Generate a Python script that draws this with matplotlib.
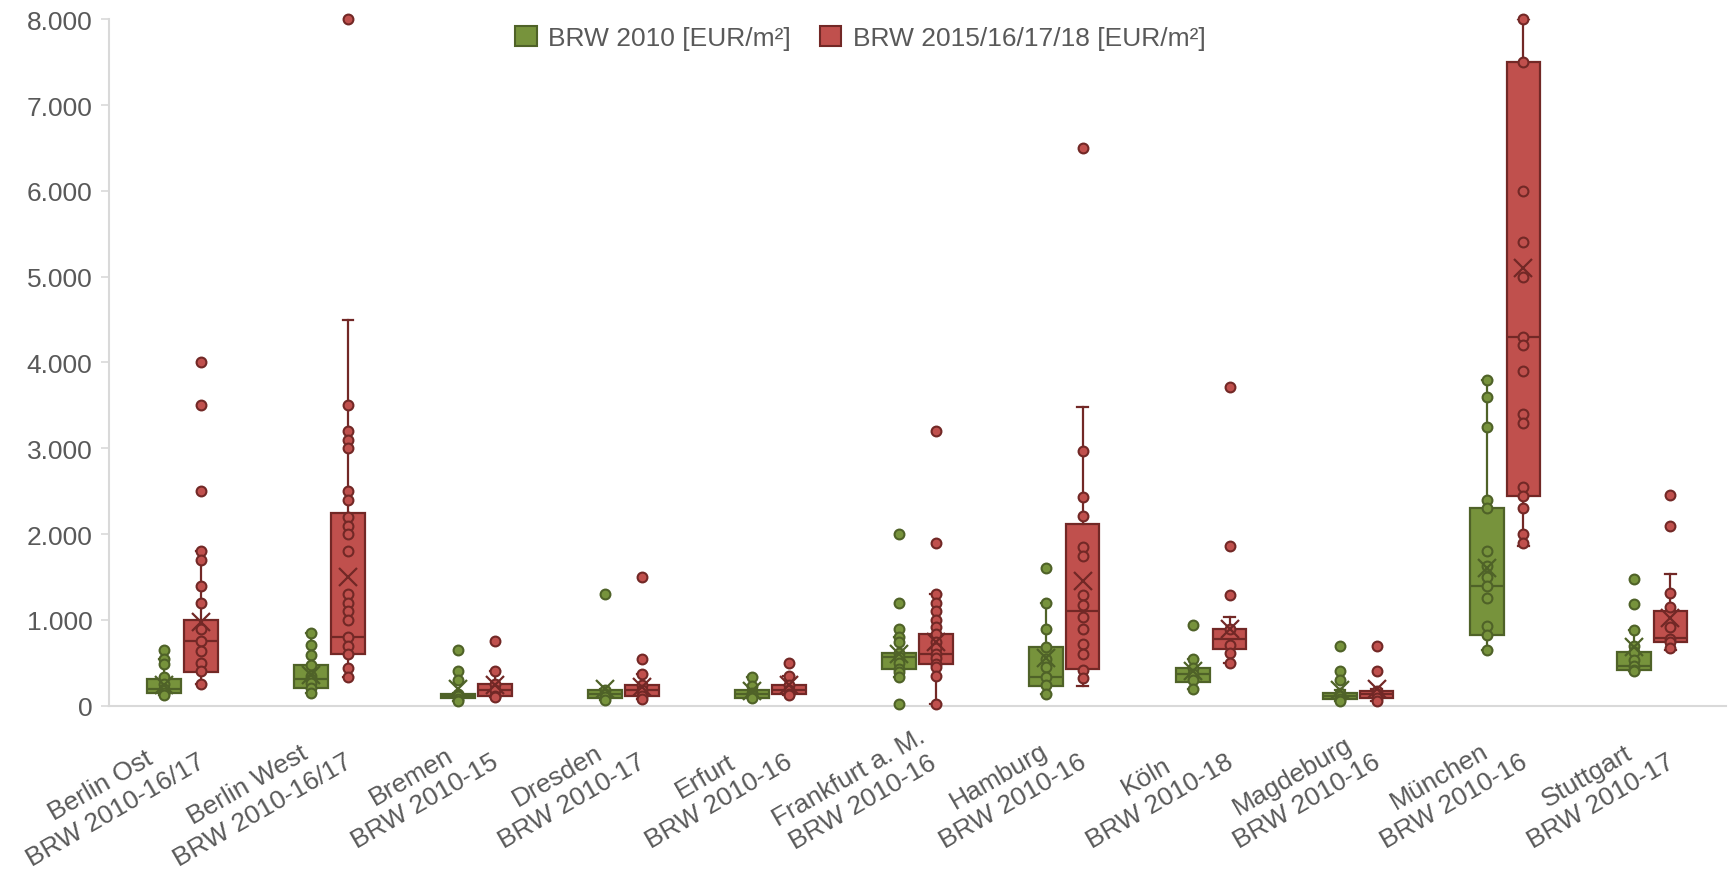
import numpy as np
import matplotlib
matplotlib.use("Agg")
import matplotlib.pyplot as plt
import matplotlib.transforms as mtransforms
from matplotlib.patches import Patch

plt.rcParams["font.family"] = ["Liberation Sans", "DejaVu Sans"]

categories = ["Berlin Ost\nBRW 2010-16/17", "Berlin West\nBRW 2010-16/17", "Bremen\nBRW 2010-15",
              "Dresden\nBRW 2010-17", "Erfurt\nBRW 2010-16", "Frankfurt a. M.\nBRW 2010-16",
              "Hamburg\nBRW 2010-16", "Köln\nBRW 2010-18", "Magdeburg\nBRW 2010-16",
              "München\nBRW 2010-16", "Stuttgart\nBRW 2010-17"]
series_names = ["BRW 2010 [EUR/m²]", "BRW 2015/16/17/18 [EUR/m²]"]

# BRW 2010 - box stats
q1_a   = [150, 210,  85,  95,  95, 430, 230, 280,  75,  830, 420]
med_a  = [190, 310, 110, 140, 140, 570, 330, 370, 110, 1400, 460]
q3_a   = [315, 480, 140, 180, 180, 610, 680, 440, 150, 2300, 630]
lo_a   = [120, 150,  60,  70,  90, 340, 140, 190,  50,  650, 400]
hi_a   = [540, 850, 150, 200, 330, 800, 1200, 550, 180, 3800, 880]
mean_a = [237, 353, 200, 190, 170, 600, 560, 400, 180, 1600, 690]
pts_a = [
    [650, 540, 490, 330, 250, 190, 150, 120],
    [850, 710, 590, 480, 350, 310, 260, 210, 150],
    [650, 400, 300, 140, 110, 80, 60],
    [1300, 180, 140, 100, 70],
    [330, 230, 150, 120, 90],
    [2000, 1200, 900, 800, 740, 610, 570, 500, 430, 390, 340, 20],
    [1600, 1200, 900, 680, 550, 450, 330, 240, 140],
    [940, 550, 440, 370, 300, 190],
    [700, 400, 300, 150, 110, 75, 50],
    [3800, 3600, 3250, 2400, 2300, 1800, 1630, 1500, 1400, 1260, 930, 830, 650],
    [1480, 1190, 880, 700, 630, 530, 460, 420, 400],
]

# BRW 2015/16/17/18
q1_b   = [390, 600, 110, 110, 140, 490, 430, 660,  90, 2450, 740]
med_b  = [750, 800, 180, 180, 185, 600, 1100, 780, 140, 4300, 790]
q3_b   = [1000, 2250, 250, 240, 240, 840, 2120, 890, 170, 7500, 1110]
lo_b   = [250, 330, 100,  80, 130,  20, 230, 500,  60, 1860, 650]
hi_b   = [1800, 4500, 400, 370, 350, 1300, 3480, 1030, 200, 8000, 1540]
mean_b = [980, 1500, 240, 220, 240, 740, 1450, 890, 200, 5100, 1020]
pts_b = [
    [4000, 3500, 2500, 1800, 1700, 1400, 1200, 900, 750, 640, 500, 400, 250],
    [8000, 3500, 3200, 3100, 3000, 2500, 2400, 2200, 2100, 2000, 1800, 1300, 1200,
     1100, 1000, 800, 700, 600, 440, 330],
    [750, 400, 250, 180, 110, 100],
    [1500, 540, 370, 240, 180, 110, 80],
    [500, 350, 240, 185, 140, 130],
    [3200, 1900, 1300, 1200, 1100, 1000, 920, 840, 740, 670, 600, 560, 490, 450, 350, 20],
    [6500, 2970, 2430, 2210, 1850, 1750, 1290, 1170, 1040, 890, 715, 607, 412, 320],
    [3720, 1860, 1290, 890, 714, 613, 500],
    [700, 400, 170, 140, 90, 60],
    [8000, 7500, 6000, 5400, 5000, 4300, 4200, 3900, 3400, 3300, 2550, 2450, 2300, 2000, 1900],
    [2460, 2100, 1320, 1146, 923, 780, 740, 670],
]

yticks = [0, 1000, 2000, 3000, 4000, 5000, 6000, 7000, 8000]
ytick_labels = ["0", "1.000", "2.000", "3.000", "4.000", "5.000", "6.000", "7.000", "8.000"]

green, dkgreen = "#77933c", "#4f6228"
red, dkred = "#c0504d", "#722826"

fig = plt.figure(figsize=(17.29, 8.78), dpi=100)
ax = fig.add_axes([0.063, 0.195, 0.935, 0.782])

x = np.arange(len(categories))
offset = 0.125
width = 0.23


def draw(q1, med, q3, lo, hi, mean, pts, pos, fc, ec):
    stats = []
    for i in range(len(q1)):
        stats.append(dict(q1=q1[i], med=med[i], q3=q3[i], whislo=lo[i], whishi=hi[i],
                          mean=mean[i], fliers=[]))
    ax.bxp(stats, positions=pos, widths=width, patch_artist=True, showmeans=True,
           showfliers=False, capwidths=0.07, manage_ticks=False,
           boxprops=dict(facecolor=fc, edgecolor=ec, linewidth=1.6),
           medianprops=dict(color=ec, linewidth=1.6),
           whiskerprops=dict(color=ec, linewidth=1.6),
           capprops=dict(color=ec, linewidth=1.6),
           meanprops=dict(marker="x", markeredgecolor=ec, markersize=13,
                          markeredgewidth=1.6, zorder=4))
    for i, p in enumerate(pts):
        ax.scatter(np.full(len(p), pos[i]), p, s=50, facecolor=fc, edgecolor=ec,
                   linewidth=1.5, zorder=3, clip_on=False)


draw(q1_a, med_a, q3_a, lo_a, hi_a, mean_a, pts_a, x - offset, green, dkgreen)
draw(q1_b, med_b, q3_b, lo_b, hi_b, mean_b, pts_b, x + offset, red, dkred)

ax.set_xlim(-0.5, len(categories) - 0.5)
ax.set_ylim(0, 8000)
ax.set_yticks(yticks)
ax.set_yticklabels(ytick_labels)
ax.set_xticks(x)
ax.set_xticklabels(categories, rotation=30, ha="right", va="top",
                   rotation_mode="anchor", multialignment="center", linespacing=1.25)
shift = mtransforms.ScaledTranslation(6 / 100, 0, fig.dpi_scale_trans)
for lab in ax.get_xticklabels():
    lab.set_transform(lab.get_transform() + shift)

for s in ["top", "right"]:
    ax.spines[s].set_visible(False)
for s in ["left", "bottom"]:
    ax.spines[s].set_color("#d9d9d9")
    ax.spines[s].set_linewidth(1.5)
ax.tick_params(axis="y", length=6, width=1.2, color="#d9d9d9", labelcolor="#595959",
               labelsize=19, pad=6)
ax.tick_params(axis="x", length=0, labelcolor="#595959", labelsize=19, pad=13)

handles = [Patch(facecolor=green, edgecolor=dkgreen, linewidth=1.5),
           Patch(facecolor=red, edgecolor=dkred, linewidth=1.5)]
ax.legend(handles, series_names, loc="center", bbox_to_anchor=(0.465, 0.973), ncol=2,
          frameon=False, fontsize=19, handlelength=0.8, handleheight=0.8,
          handletextpad=0.45, columnspacing=1.1, labelcolor="#595959")

fig.savefig("out.png", dpi=100)
